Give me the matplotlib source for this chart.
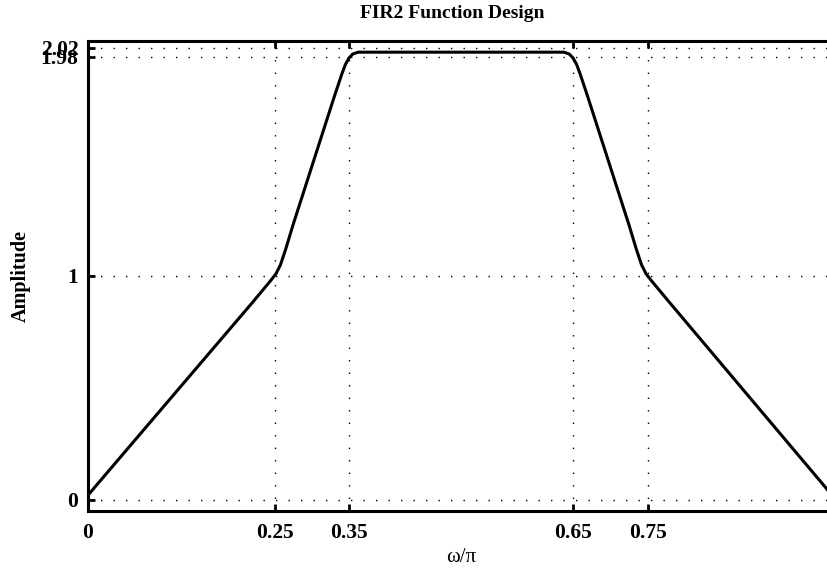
import matplotlib
matplotlib.use("Agg")
import matplotlib.pyplot as plt

plt.rcParams['font.family'] = ['Liberation Serif', 'DejaVu Serif']

# valeurs (reponse du filtre fir2)
freq = [0.0, 0.01, 0.22, 0.235, 0.245, 0.252, 0.258, 0.265, 0.275,
        0.33, 0.34, 0.345, 0.35, 0.355, 0.362,
        0.638, 0.645, 0.65, 0.655, 0.66, 0.67,
        0.725, 0.735, 0.742, 0.748, 0.755, 0.765, 0.78, 0.99, 1.0]
ampl = [0.02, 0.06, 0.88, 0.94, 0.98, 1.01, 1.05, 1.12, 1.23,
        1.8, 1.9, 1.945, 1.975, 1.992, 2.0,
        2.0, 1.992, 1.975, 1.945, 1.9, 1.8,
        1.23, 1.12, 1.05, 1.01, 0.98, 0.94, 0.88, 0.05, 0.0]

xticks = [0, 0.25, 0.35, 0.65, 0.75]
xticklabels = ['0', '0.25', '0.35', '0.65', '0.75']
yticks = [0, 1, 1.98, 2.02]
yticklabels = ['0', '1', '1.98', '2.02']

W, H = 827, 569
fig = plt.figure(figsize=(W/100, H/100), dpi=100)
ax = fig.add_axes([88/W, (H-511)/H, 746/W, 470/H])

ax.plot(freq, ampl, color='k', lw=2.2)

ax.set_xlim(0, 1)
ax.set_ylim(-0.05, 2.05)
ax.set_xticks(xticks)
ax.set_xticklabels(xticklabels)
ax.set_yticks(yticks)
ax.set_yticklabels(yticklabels)
ax.tick_params(direction='in', length=5, width=2, labelsize=15.5, pad=9,
               top=True, right=True)
ax.tick_params(axis='y', pad=7)
for lab in ax.get_xticklabels() + ax.get_yticklabels():
    lab.set_fontweight('bold')

ax.grid(True, color='k', lw=1.0, linestyle=(0, (1, 8)))
for s in ax.spines.values():
    s.set_linewidth(2.2)

ax.set_xlabel(r'ω/π', fontsize=15, labelpad=3)
ax.set_ylabel('Amplitude', fontsize=14.5, fontweight='bold', labelpad=7)
fig.text(452/W, 1 - 13/H, 'FIR2 Function Design', fontsize=14,
         fontweight='bold', ha='center', va='center')

fig.savefig('out.png', dpi=100)
